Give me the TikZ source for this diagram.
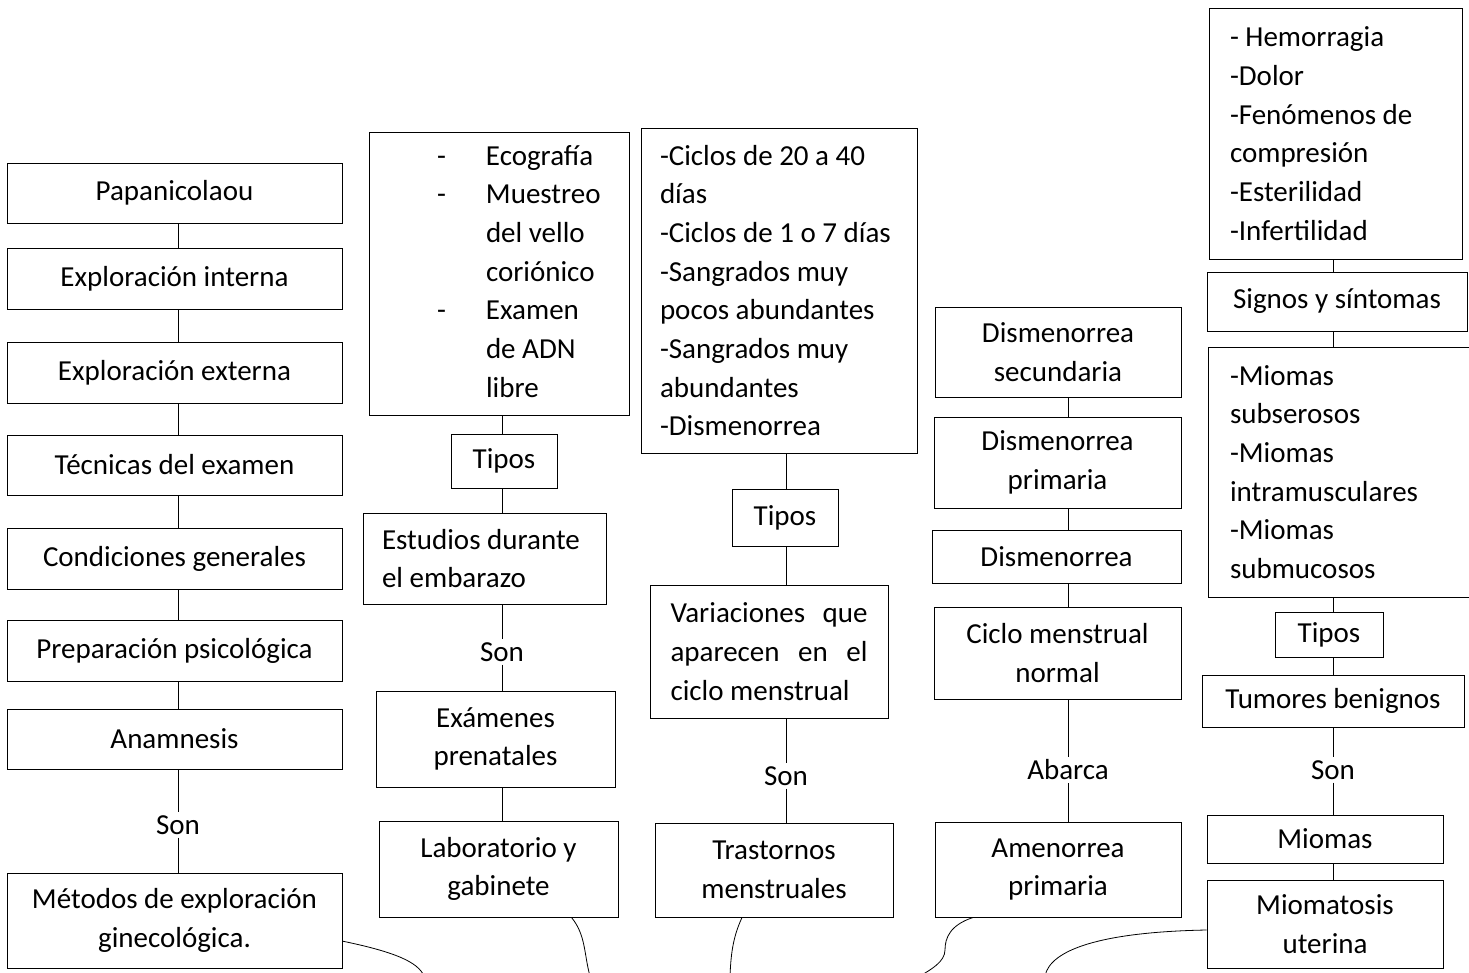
\documentclass[tikz,border=0pt]{standalone}
\usepackage{fontspec}
\setmainfont{Carlito}
\usetikzlibrary{positioning}

\tikzset{
  caja/.style={draw,line width=1pt,align=center,inner sep=0pt,font=\fontsize{29}{38.7}\selectfont},
  cajaizq/.style={caja,align=flush left,inner xsep=19pt},
  etiqueta/.style={inner sep=3pt,font=\fontsize{29}{38.7}\selectfont},
  linea/.style={line width=0.8pt},
  curva/.style={line width=0.8pt}
}

\begin{document}
\begin{tikzpicture}[x=1pt,y=-1pt]
  \useasboundingbox (0,0) rectangle (1469,972);

  \foreach \t/\y/\h [count=\n] in {Papanicolaou/193/60,Exploración interna/278.5/61,Exploración externa/372.5/61,Técnicas del examen/465/60,Condiciones generales/558.5/61,Preparación psicológica/650.5/61,Anamnesis/739/60}
    \node[caja,minimum width=335,minimum height=\h] (M\n) at (174.5,\y) {\t};
  \node[etiqueta] (son1) at (178,825) {Son};
  \node[caja,minimum width=335,minimum height=95] (M8) at (174.5,920.5) {Métodos de exploración\\ginecológica.};

  \foreach \a/\b in {M1/M2,M2/M3,M3/M4,M4/M5,M5/M6,M6/M7}
    \draw[linea] (son1 |- \a.south) -- (son1 |- \b.north);
  \draw[linea] (son1 |- M7.south) -- (son1.north);
  \draw[linea] (son1.south) -- (son1 |- M8.north);

  \node[caja,minimum width=260,minimum height=283] (E1) at (499,273.5)
    {\begin{tabular}{@{\hspace{68pt}}p{20pt}@{\hspace{29pt}}p{143pt}@{}}
      - & Ecografía\\
      - & Muestreo\\
        & del vello\\
        & coriónico\\
      - & Examen\\
        & de ADN\\
        & libre
    \end{tabular}};
  \node[caja,minimum width=106,minimum height=54] (E2) at (504,461) {Tipos};
  \node[cajaizq,text width=205,minimum height=91] (E3) at (484.5,558.5) {Estudios durante\\el embarazo};
  \node[etiqueta] (son2) at (502,652) {Son};
  \node[caja,minimum width=239,minimum height=96] (E4) at (495.5,739) {Exámenes\\prenatales};
  \node[caja,minimum width=239,minimum height=96] (E5) at (498.5,869) {Laboratorio y\\gabinete};

  \draw[linea] (son2 |- E1.south) -- (son2 |- E2.north);
  \draw[linea] (son2 |- E2.south) -- (son2 |- E3.north);
  \draw[linea] (son2 |- E3.south) -- (son2.north);
  \draw[linea] (son2.south) -- (son2 |- E4.north);
  \draw[linea] (son2 |- E4.south) -- (son2 |- E5.north);

  \node[cajaizq,text width=238,minimum height=325] (T1) at (779,290.5)
    {-Ciclos de 20 a 40\\días\\-Ciclos de 1 o 7 días\\-Sangrados muy\\pocos abundantes\\-Sangrados muy\\abundantes\\-Dismenorrea};
  \node[caja,minimum width=106,minimum height=57] (T2) at (785,517.5) {Tipos};
  \node[caja,align=justify,inner xsep=20.5pt,text width=197,minimum height=133] (T3) at (769,651.5)
    {Variaciones\hfill que\\aparecen\hfill en\hfill el\\ciclo menstrual};
  \node[etiqueta] (son3) at (786,776) {Son};
  \node[caja,minimum width=238,minimum height=94] (T4) at (774,870) {Trastornos\\menstruales};

  \draw[linea] (son3 |- T1.south) -- (son3 |- T2.north);
  \draw[linea] (son3 |- T2.south) -- (son3 |- T3.north);
  \draw[linea] (son3 |- T3.south) -- (son3.north);
  \draw[linea] (son3.south) -- (son3 |- T4.north);

  \node[caja,minimum width=246,minimum height=90] (D1) at (1058,352) {Dismenorrea\\secundaria};
  \node[caja,minimum width=247,minimum height=91] (D2) at (1057.5,462.5) {Dismenorrea\\primaria};
  \node[caja,minimum width=249,minimum height=53] (D3) at (1056.5,556.5) {Dismenorrea};
  \node[caja,minimum width=247,minimum height=92] (D4) at (1057.5,653) {Ciclo menstrual\\normal};
  \node[etiqueta] (abarca) at (1068,770) {Abarca};
  \node[caja,minimum width=246,minimum height=95] (D5) at (1058,869.5) {Amenorrea\\primaria};

  \foreach \a/\b in {D1/D2,D2/D3,D3/D4}
    \draw[linea] (abarca |- \a.south) -- (abarca |- \b.north);
  \draw[linea] (abarca |- D4.south) -- (abarca.north);
  \draw[linea] (abarca.south) -- (abarca |- D5.north);

  \node[cajaizq,inner xsep=21pt,text width=211,minimum height=251] (B1) at (1335.5,133.5)
    {- Hemorragia\\-Dolor\\-Fenómenos de\\compresión\\-Esterilidad\\-Infertilidad};
  \node[caja,minimum width=260,minimum height=59] (B2) at (1337,301.5) {Signos y síntomas};
  \node[cajaizq,inner xsep=22pt,text width=220,minimum height=250] (B3) at (1340,472)
    {-Miomas\\subserosos\\-Miomas\\intramusculares\\-Miomas\\submucosos};
  \node[caja,minimum width=108,minimum height=45] (B4) at (1329,634.5) {Tipos};
  \node[caja,minimum width=262,minimum height=52] (B5) at (1333,701) {Tumores benignos};
  \node[etiqueta] (son5) at (1333,770) {Son};
  \node[caja,minimum width=236,minimum height=48] (B6) at (1325,839) {Miomas};
  \node[caja,minimum width=236,minimum height=88] (B7) at (1325,924) {Miomatosis\\uterina};

  \foreach \a/\b in {B1/B2,B2/B3,B3/B4,B4/B5,B6/B7}
    \draw[linea] (son5 |- \a.south) -- (son5 |- \b.north);
  \draw[linea] (son5 |- B5.south) -- (son5.north);
  \draw[linea] (son5.south) -- (son5 |- B6.north);

  \coordinate (f1) at (424,976);
  \coordinate (f2) at (590,976);
  \coordinate (f3) at (730,976);
  \coordinate (f4) at (920,976);
  \coordinate (f5) at (1045,976);
  \draw[curva] (M8.-7) .. controls (395,952) and (418,962) .. (f1);
  \draw[curva] ([xshift=73pt]E5.south) .. controls (586,935) and (584,955) .. (f2);
  \draw[curva] ([xshift=-32pt]T4.south) .. controls (734,935) and (731,950) .. (f3);
  \draw[curva] ([xshift=-85pt]D5.south) .. controls (950,925) and (945,938) .. (945,950) .. controls (945,962) and (930,970) .. (f4);
  \draw[curva] ([yshift=-6pt]B7.west) .. controls (1100,932) and (1050,950) .. (f5);
\end{tikzpicture}
\end{document}
